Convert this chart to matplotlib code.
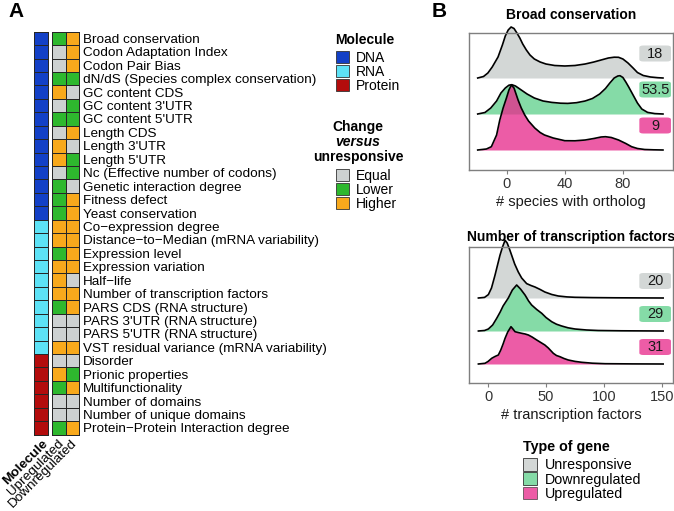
import matplotlib
matplotlib.use('Agg')
import matplotlib.pyplot as plt
import numpy as np
from matplotlib.colors import ListedColormap, to_rgb
from matplotlib.patches import Patch, FancyBboxPatch
import matplotlib.transforms as mtransforms

plt.rcParams['font.family'] = ['Liberation Sans', 'DejaVu Sans']

# ---------------- data ----------------
features = [
    "Broad conservation", "Codon Adaptation Index", "Codon Pair Bias",
    "dN/dS (Species complex conservation)", "GC content CDS", "GC content 3'UTR",
    "GC content 5'UTR", "Length CDS", "Length 3'UTR", "Length 5'UTR",
    "Nc (Effective number of codons)", "Genetic interaction degree", "Fitness defect",
    "Yeast conservation", "Co\u2212expression degree",
    "Distance\u2212to\u2212Median (mRNA variability)", "Expression level",
    "Expression variation", "Half\u2212life", "Number of transcription factors",
    "PARS CDS (RNA structure)", "PARS 3'UTR (RNA structure)", "PARS 5'UTR (RNA structure)",
    "VST residual variance (mRNA variability)", "Disorder", "Prionic properties",
    "Multifunctionality", "Number of domains", "Number of unique domains",
    "Protein\u2212Protein Interaction degree",
]
molecule = ["DNA"] * 14 + ["RNA"] * 10 + ["Protein"] * 6
upregulated = [
    "Lower", "Equal", "Equal", "Lower", "Higher", "Equal", "Lower", "Equal", "Higher", "Higher",
    "Equal", "Lower", "Lower", "Lower", "Higher", "Higher", "Lower", "Higher", "Higher", "Higher",
    "Lower", "Equal", "Equal", "Higher", "Equal", "Higher", "Lower", "Equal", "Equal", "Lower",
]
downregulated = [
    "Higher", "Higher", "Higher", "Lower", "Equal", "Lower", "Lower", "Higher", "Equal", "Lower",
    "Lower", "Equal", "Higher", "Higher", "Higher", "Higher", "Higher", "Higher", "Equal", "Higher",
    "Higher", "Equal", "Equal", "Higher", "Equal", "Lower", "Higher", "Equal", "Equal", "Higher",
]
mol_levels = ["DNA", "RNA", "Protein"]
chg_levels = ["Equal", "Lower", "Higher"]
gene_types = ["Unresponsive", "Downregulated", "Upregulated"]

# Broad conservation ridges (x = # species with ortholog, h = ridge height)
bc_unresp_x = [-20, -16, -13, -10, -6, -3, -1, 1, 3, 5, 7, 9, 11, 13.5, 16, 19, 23, 27, 33, 40,
               47, 54, 60, 65, 70, 74, 77, 80, 83.5, 87, 90, 94, 99, 104, 107.6]
bc_unresp_h = [0, 1.5, 5, 11, 21, 33, 42, 48, 51, 49.5, 45, 40, 34, 28, 23, 19, 16, 14, 12.5, 12,
               12.5, 14, 16, 18, 20, 20.8, 20.7, 19, 15, 10, 5.5, 2.5, 1, 0.3, 0]
bc_down_x = [-20, -15, -11, -7, -4, -1, 1.5, 3.5, 6, 10, 14, 19, 25, 31, 37, 42, 48, 54, 59, 64,
             68, 71, 74, 76.5, 78, 80, 82, 84, 87, 90, 93, 97, 102, 107.6]
bc_down_h = [0, 1.5, 6, 13, 21, 26, 28.8, 29.3, 28, 24, 20, 16, 13, 11.6, 10.8, 10.6, 11.3, 13, 15.5, 20,
             25.5, 31, 36, 38, 38.3, 36.5, 32, 27, 19, 11, 5, 1.6, 0.4, 0]
bc_up_x = [-20, -14, -10.6, -7, -4.8, -2.5, -0.2, 1.5, 3.2, 5, 7.8, 10, 12.4, 15, 19.3, 23, 26, 32, 40,
           47, 54, 60, 65, 68, 72, 77, 82, 86, 90, 95, 101, 107.6]
bc_up_h = [0, 1, 3.3, 15, 30, 42, 52, 60, 65, 62, 50, 42, 35, 29, 22, 17.5, 15, 12, 9.3,
           9.2, 10, 11.5, 13, 13.3, 12.5, 10, 6.5, 3.3, 1.5, 0.5, 0.2, 0]
bc_labels = ["18", "53.5", "9"]

# Number of transcription factors ridges
tf_unresp_x = [-8.3, -3, 0.3, 3, 6, 8, 10.3, 12.5, 14.7, 16.5, 18.5, 20.4, 23, 26.1, 29, 33.3, 37,
               40.5, 45, 49, 55, 60.6, 68, 75, 90, 110, 130, 151]
tf_unresp_h = [0, 0.6, 3.4, 10, 22.7, 32, 42.7, 51, 57.7, 55, 49, 42.7, 34, 26, 20, 14.4, 12.5,
               11, 8.5, 6, 3.5, 2, 1.1, 0.7, 0.4, 0.2, 0.1, 0]
tf_down_x = [-8.3, -3, 0.3, 4, 7.5, 10.5, 13, 17.5, 21, 24.7, 28, 31.9, 35, 37.6, 42, 46.3, 50, 54.9,
             59, 63.5, 69, 75, 85, 95, 115, 151]
tf_down_h = [0, 0.5, 2, 6, 12.7, 19, 25, 33, 41, 46, 42, 36, 30, 26, 21.5, 17.7, 13.5, 9.3,
             6.8, 5, 3.2, 2, 1, 0.5, 0.2, 0]
tf_up_x = [-8.3, -2.6, 0, 3.2, 6, 8.9, 11, 13, 14.7, 17, 19.8, 21.5, 23.3, 26, 29, 32, 34.8, 38, 42,
           45.5, 49, 52, 56.3, 59, 62, 65.5, 69.2, 75, 80.8, 90, 101, 125, 151]
tf_up_h = [0, 0.7, 2.5, 5.7, 7.5, 9, 14, 20, 25.7, 32, 37.3, 35, 32.3, 31.5, 30.7, 30, 29, 27, 24,
           21.5, 19, 16, 10.7, 8.5, 7.3, 5.5, 4, 2.6, 1.7, 0.8, 0.3, 0.1, 0]
tf_labels = ["20", "29", "31"]

bc_ticks = [0, 40, 80]
tf_ticks = [0, 50, 100, 150]

# ---------------- styling ----------------
mol_colors = ["#1340C6", "#5DE2F6", "#B30C0C"]
chg_colors = ["#CDD1D1", "#2EB82E", "#F8A91C"]
gene_colors = ["#D3D7D6", "#85DBA7", "#E7298A"]
gene_alpha = [1.0, 1.0, 0.76]
EDGE = "#262626"
FS = 9.7


def blend(c, a):
    r = np.array(to_rgb(c))
    return tuple(a * r + (1 - a) * np.ones(3))


W, H = 674, 511
fig = plt.figure(figsize=(W / 100, H / 100), dpi=100)


def ax_px(x0, y0, x1, y1):
    return fig.add_axes([x0 / W, 1 - y1 / H, (x1 - x0) / W, (y1 - y0) / H])


# ---------------- panel A heatmap ----------------
n = len(features)
top, bot = 31.7, 434.6

ax_m = ax_px(34, top, 47.5, bot)
M = np.array([[mol_levels.index(m)] for m in molecule])
mm = ax_m.pcolormesh(M, cmap=ListedColormap(mol_colors), vmin=-0.5, vmax=2.5,
                     edgecolors=EDGE, linewidth=0.65)
mm.set_clip_on(False)
ax_m.set_xlim(0, 1)
ax_m.set_ylim(n, 0)
ax_m.set_frame_on(False)
ax_m.set_yticks([])
ax_m.set_xticks([0.55])
ax_m.set_xticklabels(["Molecule"], rotation=45, ha="right", rotation_mode="anchor",
                     fontsize=FS, fontweight="bold")
ax_m.tick_params(length=0, pad=2)

ax_c = ax_px(52, top, 79, bot)
C = np.array([[chg_levels.index(u), chg_levels.index(d)] for u, d in zip(upregulated, downregulated)])
cm = ax_c.pcolormesh(C, cmap=ListedColormap(chg_colors), vmin=-0.5, vmax=2.5,
                     edgecolors=EDGE, linewidth=0.65)
cm.set_clip_on(False)
ax_c.set_xlim(0, 2)
ax_c.set_ylim(n, 0)
ax_c.set_frame_on(False)
ax_c.yaxis.tick_right()
ax_c.set_yticks(np.arange(n) + 0.5)
ax_c.set_yticklabels(features, fontsize=FS)
ax_c.set_xticks([0.4, 1.4])
ax_c.set_xticklabels(["Upregulated", "Downregulated"], rotation=45, ha="right",
                     rotation_mode="anchor", fontsize=FS)
ax_c.tick_params(length=0, pad=2)
ax_c.tick_params(axis="y", pad=3)

fig.text(8 / W, 1 - 11 / H, "A", fontsize=15, fontweight="bold", va="center", ha="left")
fig.text(432 / W, 1 - 11 / H, "B", fontsize=15, fontweight="bold", va="center", ha="left")

# legends for panel A
LFS = 10
fig.text(335 / W, 1 - 40 / H, "Molecule", fontsize=LFS, fontweight="bold", va="center")
h_mol = [Patch(facecolor=c, edgecolor="#333333", linewidth=0.6) for c in mol_colors]
fig.legend(h_mol, mol_levels, loc="upper left", bbox_to_anchor=(336 / W, 1 - 51 / H),
           frameon=False, fontsize=LFS, handlelength=0.95, handleheight=1.0,
           labelspacing=0.0, handletextpad=0.5, borderpad=0, borderaxespad=0)

fig.text(358 / W, 1 - 127 / H, "Change", fontsize=LFS, fontweight="bold", va="center", ha="center")
fig.text(358 / W, 1 - 142 / H, "versus", fontsize=LFS, fontweight="bold", style="italic",
         va="center", ha="center")
fig.text(358 / W, 1 - 157 / H, "unresponsive", fontsize=LFS, fontweight="bold", va="center", ha="center")
h_chg = [Patch(facecolor=c, edgecolor="#333333", linewidth=0.6) for c in chg_colors]
fig.legend(h_chg, chg_levels, loc="upper left", bbox_to_anchor=(336 / W, 1 - 169 / H),
           frameon=False, fontsize=LFS, handlelength=0.95, handleheight=1.0,
           labelspacing=0.0, handletextpad=0.5, borderpad=0, borderaxespad=0)


# ---------------- panel B ridges ----------------
def ridges(ax, xs_list, hs_list, bases, labels, lab_off, ticks, xlim, ylim, title, xlabel, tpad):
    for xs, hs, b, c, a in zip(xs_list, hs_list, bases, gene_colors, gene_alpha):
        y = b + np.array(hs, dtype=float)
        ax.fill_between(xs, b, y, color=c, alpha=a, linewidth=0, clip_on=False)
        ax.plot(xs, y, color="black", lw=1.2, clip_on=False, solid_joinstyle="round")
    trans = mtransforms.blended_transform_factory(ax.transAxes, ax.transData)
    for lab, b, c, a in zip(labels, bases, gene_colors, gene_alpha):
        yc = b + lab_off
        box = FancyBboxPatch((0.835, yc - 8), 0.155, 16, boxstyle="round,pad=0,rounding_size=0.02",
                             transform=trans, facecolor=blend(c, a), edgecolor="none",
                             mutation_aspect=100)
        ax.add_patch(box)
        ax.text(0.835 + 0.0775, yc, lab, transform=trans, ha="center", va="center",
                fontsize=10.5, color="#1a1a1a")
    ax.set_xlim(*xlim)
    ax.set_ylim(*ylim)
    ax.set_yticks([])
    ax.set_xticks(ticks)
    ax.tick_params(axis="x", length=3, color="#7f7f7f", labelsize=10.5, labelcolor="#333333", pad=2)
    for s in ax.spines.values():
        s.set_color("#7f7f7f")
        s.set_linewidth(1.0)
    ax.set_title(title, fontsize=10, fontweight="bold", pad=tpad)
    ax.set_xlabel(xlabel, fontsize=10.5, color="#1a1a1a", labelpad=3)


ax_b1 = ax_px(469, 33, 673, 170)
ridges(ax_b1, [bc_unresp_x, bc_down_x, bc_up_x], [bc_unresp_h, bc_down_h, bc_up_h],
       [72, 36, 0], bc_labels, 24.5, bc_ticks, (-26, 114.5), (-20, 117),
       "Broad conservation", "# species with ortholog", 10)

ax_b2 = ax_px(469, 247, 673, 383)
ridges(ax_b2, [tf_unresp_x, tf_down_x, tf_up_x], [tf_unresp_h, tf_down_h, tf_up_h],
       [66, 33, 0], tf_labels, 17, tf_ticks, (-16.4, 159.5), (-19, 117),
       "Number of transcription factors", "# transcription factors", 4)

fig.text(523 / W, 1 - 447 / H, "Type of gene", fontsize=10.3, fontweight="bold", va="center")
h_gene = [Patch(facecolor=c, alpha=a, edgecolor="#333333", linewidth=0.6)
          for c, a in zip(gene_colors, gene_alpha)]
fig.legend(h_gene, gene_types, loc="upper left", bbox_to_anchor=(523 / W, 1 - 458 / H),
           frameon=False, fontsize=10.3, handlelength=1.0, handleheight=1.0,
           labelspacing=0.0, handletextpad=0.5, borderpad=0, borderaxespad=0)

fig.savefig("out.png", dpi=100)
